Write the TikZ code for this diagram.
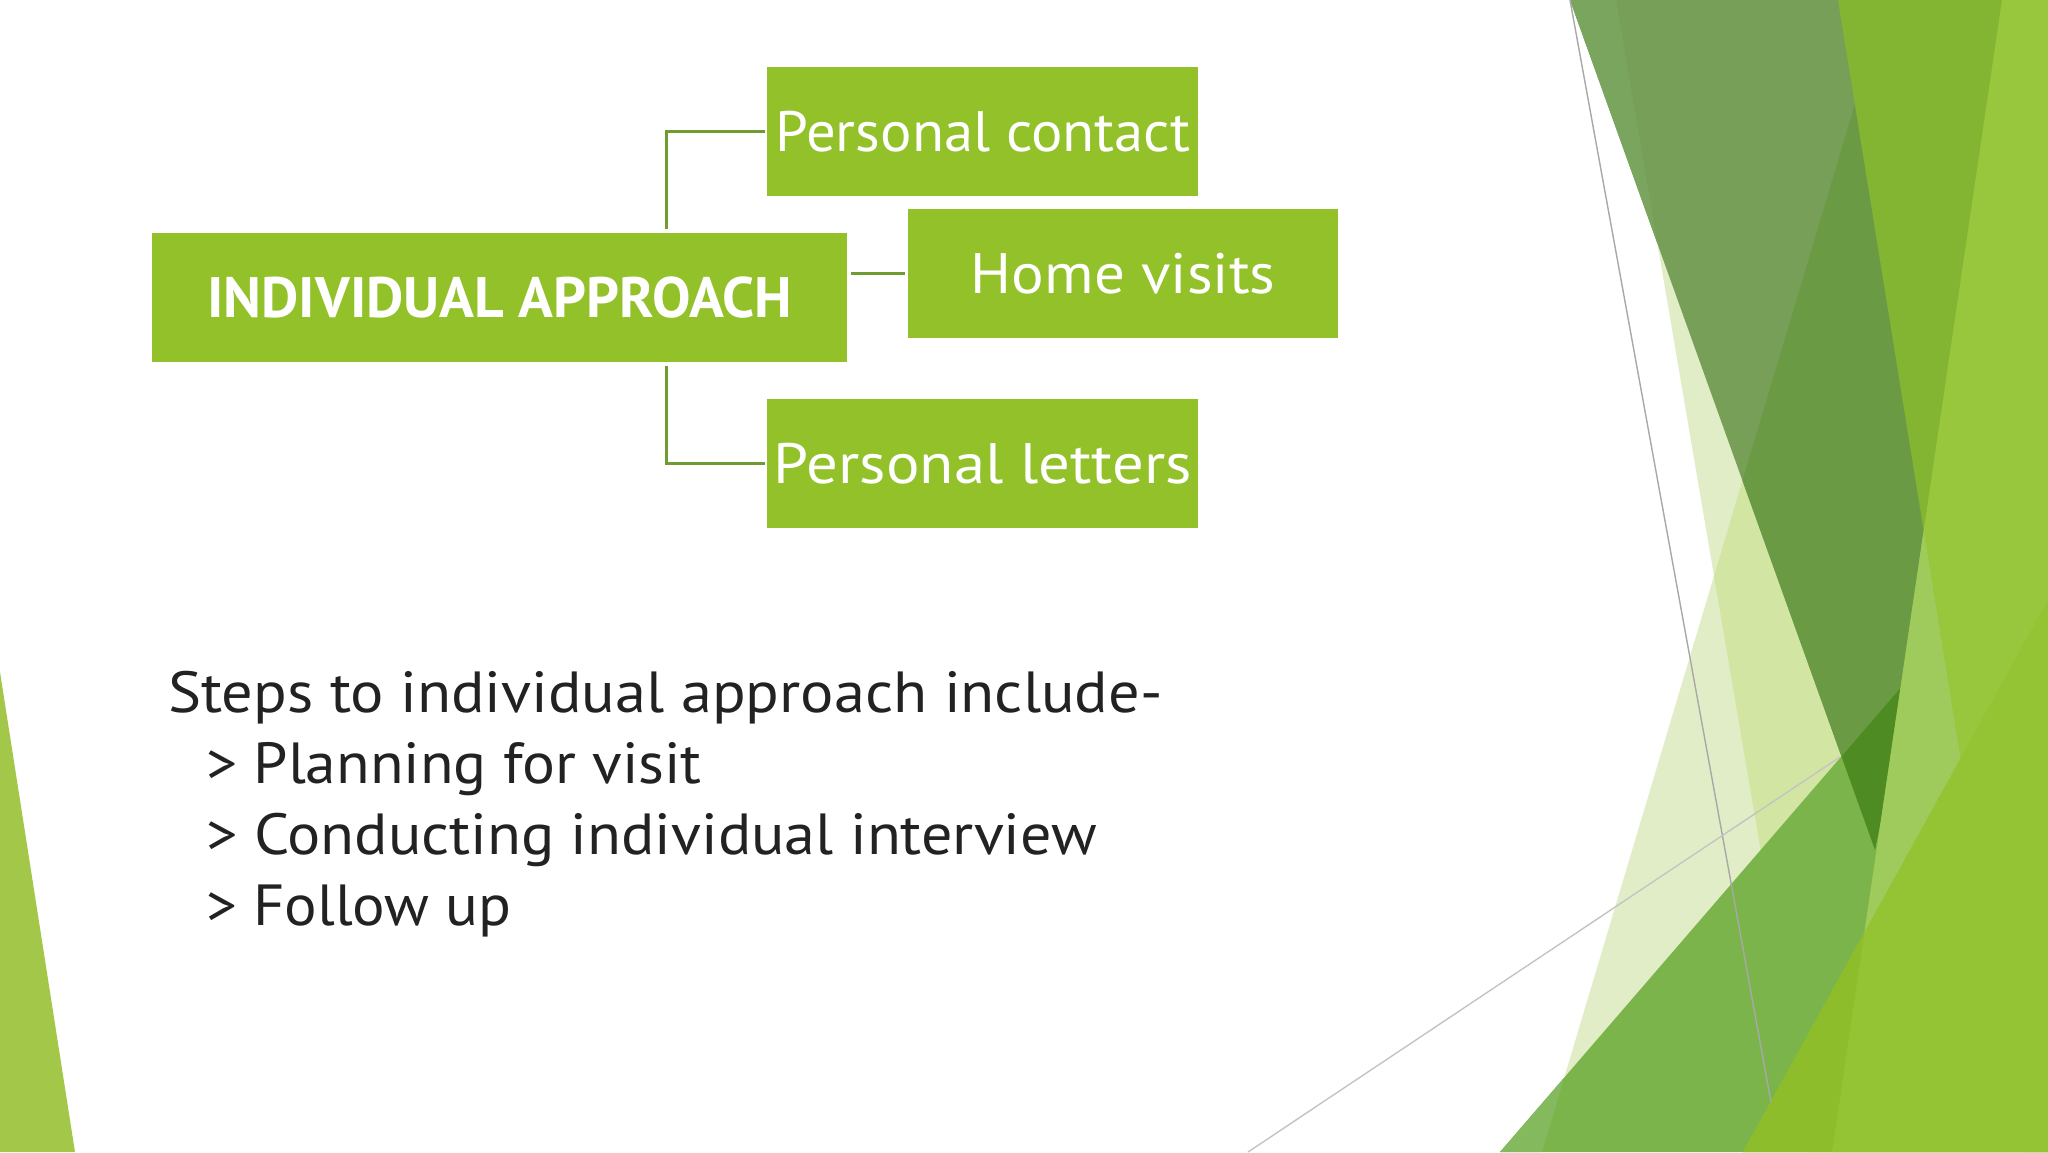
\documentclass[tikz,border=0pt]{standalone}
\usepackage{fontspec}
\usepackage{graphicx}
\setmainfont{PT Sans}
\newcommand{\xstr}[2]{\scalebox{#1}[1]{#2}}
\definecolor{boxgreen}{HTML}{92C12A}
\definecolor{linkgreen}{HTML}{6F9B30}
\definecolor{bodytext}{HTML}{222222}
\definecolor{paleA}{HTML}{E1EDC7}
\definecolor{paleB}{HTML}{D2E5A3}
\definecolor{oliveA}{HTML}{779F57}
\definecolor{oliveL}{HTML}{7AA55E}
\definecolor{oliveB}{HTML}{6B9A45}
\definecolor{brightA}{HTML}{84B532}
\definecolor{midA}{HTML}{7BB44B}
\definecolor{midL}{HTML}{84BA5D}
\definecolor{deepA}{HTML}{4F8B23}
\definecolor{limeA}{HTML}{98C63D}
\definecolor{limeL}{HTML}{9ECB5C}
\definecolor{yellowA}{HTML}{94C334}
\definecolor{yellowD}{HTML}{8DBD2B}
\definecolor{leftA}{HTML}{A3C748}
\definecolor{greyA}{HTML}{A8A8A8}
\definecolor{greyB}{HTML}{C4C4C4}
\begin{document}
\begin{tikzpicture}[x=1pt,y=-1pt,
  box/.style={fill=boxgreen, text=white, inner sep=0pt, minimum width=431pt,
    minimum height=129pt, font=\fontsize{57}{64}\selectfont},
  conn/.style={draw=linkgreen, line width=3pt},
  body/.style={text=bodytext, inner sep=0pt, anchor=base west,
    font=\fontsize{58}{70}\selectfont}]
\useasboundingbox (0,0) rectangle (2048,1152);
\fill[white] (0,0) rectangle (2048,1152);

% left strip
\fill[leftA] (0,672) -- (75,1152) -- (0,1152) -- cycle;

% pale facets
\fill[paleA] (1616,0) -- (2048,0) -- (2048,1152) -- (1812,1152) -- cycle;
\fill[paleA] (1886,0) -- (2048,0) -- (2048,1152) -- (1542,1152) -- cycle;
\begin{scope}
  \clip (1616,0) -- (2048,0) -- (2048,1152) -- (1812,1152) -- cycle;
  \fill[paleB] (1886,0) -- (2048,0) -- (2048,1152) -- (1542,1152) -- cycle;
\end{scope}

% dark olive facet
\fill[oliveA] (1570,0) -- (2048,0) -- (1875,850) -- cycle;
\begin{scope}
  \clip (1570,0) -- (2048,0) -- (1875,850) -- cycle;
  \fill[oliveB] (1886,0) -- (2048,0) -- (2048,1152) -- (1542,1152) -- cycle;
  \fill[oliveL] (1500,0) -- (1616,0) -- (1812,1152) -- (1500,1152) -- cycle;
\end{scope}

% bright facet
\fill[brightA] (1838,0) -- (2048,0) -- (2048,1152) -- (2024,1152) -- cycle;

% medium green facet
\fill[midA] (1500,1152) -- (2048,517) -- (2048,1152) -- cycle;
\begin{scope}
  \clip (1500,1152) -- (2048,517) -- (2048,1152) -- cycle;
  \fill[midL] (1400,0) -- (1886,0) -- (1542,1152) -- (1400,1152) -- cycle;
  \fill[deepA] (1570,0) -- (2048,0) -- (1875,850) -- cycle;
\end{scope}

% lime facet
\fill[limeA] (2002,0) -- (2048,0) -- (2048,1152) -- (1832,1152) -- cycle;
\begin{scope}
  \clip (2002,0) -- (2048,0) -- (2048,1152) -- (1832,1152) -- cycle;
  \fill[limeL] (1500,0) -- (1838,0) -- (2024,1152) -- (1500,1152) -- cycle;
\end{scope}

% yellow-green facet
\fill[yellowA] (1743,1152) -- (2048,600) -- (2048,1152) -- cycle;
\begin{scope}
  \clip (1743,1152) -- (2048,600) -- (2048,1152) -- cycle;
  \fill[yellowD] (1500,0) -- (2002,0) -- (1832,1152) -- (1500,1152) -- cycle;
\end{scope}

% thin grey lines
\draw[greyA, line width=1.4pt] (1570,0) -- (1771,1102);
\draw[greyB, line width=1.4pt] (1248,1152) -- (1840,757);

% diagram
\node[box, anchor=north west, minimum width=695pt, font=\fontsize{57}{64}\selectfont\bfseries]
  (ia) at (152,233) {\xstr{1.01}{INDIVIDUAL APPROACH}};
\node[box, anchor=north west] (pc) at (767,67) {\xstr{1.03}{Personal contact}};
\node[box, anchor=north west, minimum width=430pt] (hv) at (908,209) {\xstr{1.07}{Home visits}};
\node[box, anchor=north west] (pl) at (767,399) {\xstr{1.10}{Personal letters}};

\draw[conn, shorten >=2pt] ([xshift=514pt,yshift=4pt]ia.north west) |- (pc.west);
\draw[conn, shorten <=4pt, shorten >=3pt] (ia.east |- hv.west) -- (hv.west);
\draw[conn, shorten >=2pt] ([xshift=514pt,yshift=-4pt]ia.south west) |- (pl.west);

% body text
\node[body] (s0) at (168,712) {\xstr{1.075}{Steps to individual approach include-}};
\node[body] (s1) at (206,783) {\xstr{1.06}{> Planning for visit}};
\node[body] (s2) at (206,854) {\xstr{1.07}{> Conducting individual interview}};
\node[body] (s3) at (206,925) {\xstr{1.05}{> Follow up}};
\end{tikzpicture}
\end{document}
